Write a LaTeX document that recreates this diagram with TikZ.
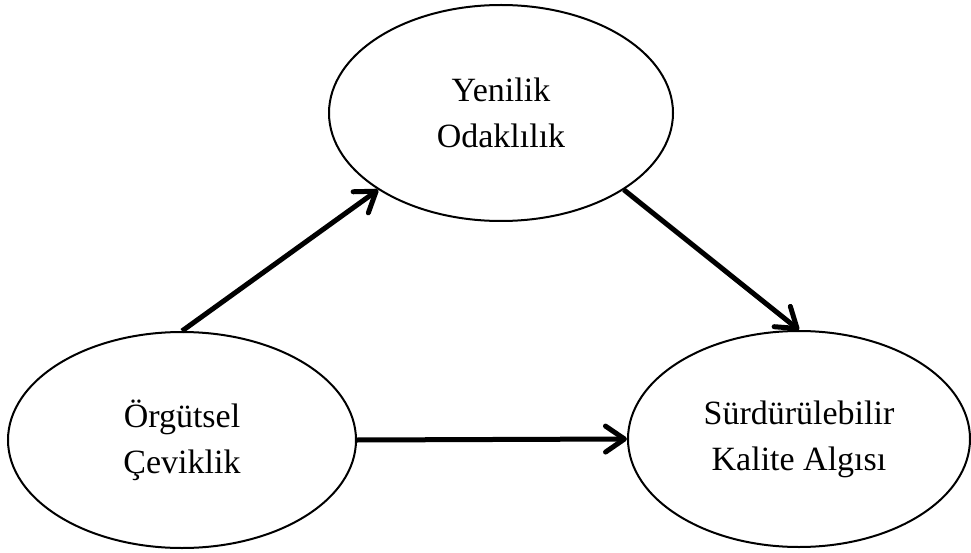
\documentclass[tikz,border=0pt]{standalone}
\usepackage{fontspec}
\setmainfont{Liberation Serif}
\usetikzlibrary{shapes.geometric,arrows.meta}
\tikzset{
  construct/.style={ellipse, draw=black, line width=2pt, inner sep=0pt, align=center,
    font=\fontsize{34pt}{46pt}\selectfont},
  link/.style={line width=5pt, -{Straight Barb[length=19pt,width=26pt,round]}}
}
\begin{document}
\begin{tikzpicture}[x=1pt,y=-1pt]
\useasboundingbox (0,0) rectangle (971,553);
\node[construct, minimum width=344pt, minimum height=216pt] (T) at (501,113) {Yenilik\\Odaklılık};
\node[construct, minimum width=348pt, minimum height=216pt] (L) at (182,440) {Örgütsel\\Çeviklik};
\node[construct, minimum width=342pt, minimum height=216pt] (R) at (799,439) {Sürdürülebilir\\Kalite Algısı};
\draw[link] (L.north) -- (T.212.7);
\draw[link] (T.-32.3) -- (R.north);
\draw[link] (L.east) -- (R.west);
\end{tikzpicture}
\end{document}
